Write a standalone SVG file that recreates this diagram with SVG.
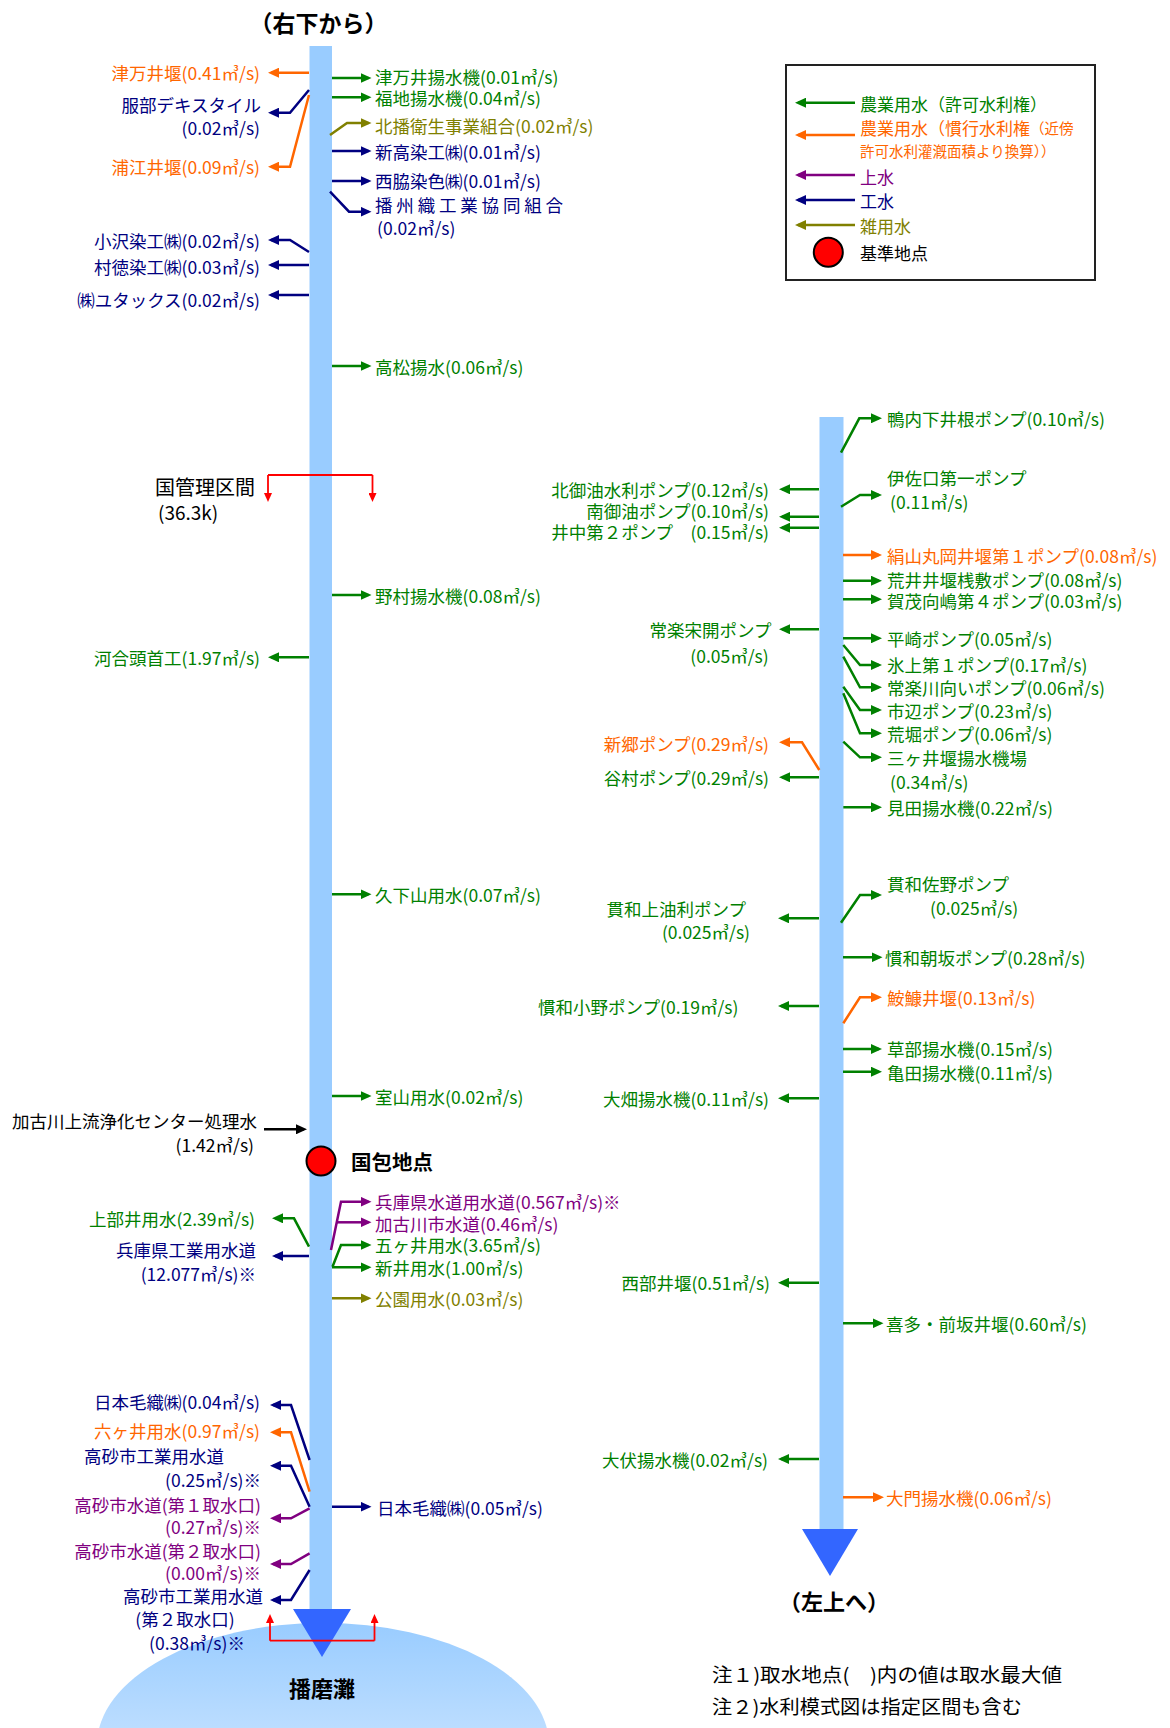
<svg xmlns="http://www.w3.org/2000/svg" width="1170" height="1728" viewBox="0 0 1170 1728">
<style>
text{font-family:"Noto Sans CJK JP","Noto Sans",sans-serif;font-size:17.5px;dominant-baseline:central}
.e{text-anchor:end}
.m{text-anchor:middle}
.b{font-weight:bold}
.tg{fill:#008000}.to{fill:#ff6600}.tn{fill:#000080}.tl{fill:#808000}.tp{fill:#800080}.tk{fill:#000}
.c{fill:none;stroke-width:2.5}
.cg{stroke:#008000;marker-end:url(#ag)}
.co{stroke:#ff6600;marker-end:url(#ao)}
.cn{stroke:#000080;marker-end:url(#an)}
.cl{stroke:#808000;marker-end:url(#al)}
.cp{stroke:#800080;marker-end:url(#ap)}
.ck{stroke:#000;marker-end:url(#ak)}
.cr{fill:none;stroke:#ff0000;stroke-width:1.8}
.river{fill:#99ccff}
.head{fill:#3366ff}
.leg{font-size:17px}
.legs{font-size:14.5px}
</style>
<defs>
<marker id="ag" viewBox="0 0 11 10" refX="8" refY="5" markerWidth="11" markerHeight="10" markerUnits="userSpaceOnUse" orient="auto"><path d="M0,0 L11,5 L0,10 z" fill="#008000"/></marker>
<marker id="ao" viewBox="0 0 11 10" refX="8" refY="5" markerWidth="11" markerHeight="10" markerUnits="userSpaceOnUse" orient="auto"><path d="M0,0 L11,5 L0,10 z" fill="#ff6600"/></marker>
<marker id="an" viewBox="0 0 11 10" refX="8" refY="5" markerWidth="11" markerHeight="10" markerUnits="userSpaceOnUse" orient="auto"><path d="M0,0 L11,5 L0,10 z" fill="#000080"/></marker>
<marker id="al" viewBox="0 0 11 10" refX="8" refY="5" markerWidth="11" markerHeight="10" markerUnits="userSpaceOnUse" orient="auto"><path d="M0,0 L11,5 L0,10 z" fill="#808000"/></marker>
<marker id="ap" viewBox="0 0 11 10" refX="8" refY="5" markerWidth="11" markerHeight="10" markerUnits="userSpaceOnUse" orient="auto"><path d="M0,0 L11,5 L0,10 z" fill="#800080"/></marker>
<marker id="ak" viewBox="0 0 11 10" refX="8" refY="5" markerWidth="11" markerHeight="10" markerUnits="userSpaceOnUse" orient="auto"><path d="M0,0 L11,5 L0,10 z" fill="#000"/></marker>
<marker id="ar" viewBox="0 0 9 8" refX="6" refY="4" markerWidth="9" markerHeight="8" markerUnits="userSpaceOnUse" orient="auto"><path d="M0,0 L9,4 L0,8 z" fill="#ff0000"/></marker>
<linearGradient id="sea" x1="0" y1="0" x2="0" y2="1">
<stop offset="0" stop-color="#99ccff"/>
<stop offset="1" stop-color="#e8f3ff"/>
</linearGradient>
</defs>
<rect width="1170" height="1728" fill="#fff"/>

<!-- Sea and rivers -->
<g id="sea-harima">
<ellipse cx="323" cy="1745" rx="226" ry="122" fill="url(#sea)"/>
<text class="m b tk" x="322" y="1687" style="font-size:22px">播磨灘</text>
</g>
<g id="river-left">
<rect class="river" x="309.5" y="46" width="22.5" height="1563"/>
<polygon class="head" points="293,1609 351,1609 322,1657"/>
</g>
<g id="river-right">
<rect class="river" x="819.5" y="417" width="24" height="1112"/>
<polygon class="head" points="802,1529 858,1529 830,1576"/>
</g>
<g id="title-top"><text class="m b tk" x="318.5" y="22" style="font-size:23px">（右下から）</text></g>
<g id="title-bottom"><text class="m b tk" x="834" y="1600" style="font-size:22px">（左上へ）</text></g>

<!-- Connectors -->
<g id="connectors">
<!-- left river, left side -->
<polyline class="c co" points="309,72.7 271,72.7"/>
<polyline class="c cn" points="309,90 290,112.7 271,112.7"/>
<polyline class="c co" points="309,95 290,166.7 271,166.7"/>
<polyline class="c cn" points="309,252 290,240 271,240"/>
<polyline class="c cn" points="309,265 271,265"/>
<polyline class="c cn" points="309,295 271,295"/>
<polyline class="c cg" points="309,657.3 271,657.3"/>
<polyline class="c ck" points="264,1129.3 304,1129.3"/>
<polyline class="c cg" points="309,1246.7 294,1218.3 275,1218.3"/>
<polyline class="c cn" points="309,1256 275,1256"/>
<polyline class="c cn" points="309.6,1460 291,1405 273,1405"/>
<polyline class="c co" points="309.6,1491.7 291,1432.3 273,1432.3"/>
<polyline class="c cn" points="309.6,1506.7 291,1465.7 273,1465.7"/>
<polyline class="c cp" points="309.6,1508.3 291,1518.3 273,1518.3"/>
<polyline class="c cp" points="309.6,1553.3 291,1564 273,1564"/>
<polyline class="c cn" points="309.6,1570 291,1600 273,1600"/>
<!-- left river, right side -->
<polyline class="c cg" points="332,78 368.5,78"/>
<polyline class="c cg" points="332,97.3 368.5,97.3"/>
<polyline class="c cl" points="330,135 347,123 368.5,123"/>
<polyline class="c cn" points="332,151 368.5,151"/>
<polyline class="c cn" points="332,181 368.5,181"/>
<polyline class="c cn" points="330,191.7 349,211.7 368.5,211.7"/>
<polyline class="c cg" points="332,366 368.5,366"/>
<polyline class="c cg" points="332,595 368.5,595"/>
<polyline class="c cg" points="332,894.3 368.5,894.3"/>
<polyline class="c cg" points="332,1096 368.5,1096"/>
<polyline class="c cp" points="331,1250 341,1201.7 368.5,1201.7"/>
<polyline class="c cp" points="337,1222.3 368.5,1222.3"/>
<polyline class="c cg" points="332.5,1266.7 341,1245 368.5,1245"/>
<polyline class="c cg" points="332,1267.3 368.5,1267.3"/>
<polyline class="c cl" points="332,1298.3 368.5,1298.3"/>
<polyline class="c cn" points="332,1506.7 368.5,1506.7"/>
<!-- red boundary brackets -->
<path class="cr" d="M268,475 H372.5"/>
<path class="cr" d="M268,475 V499" marker-end="url(#ar)"/>
<path class="cr" d="M372.5,475 V499" marker-end="url(#ar)"/>
<path class="cr" d="M270,1640.7 H374.5"/>
<path class="cr" d="M270,1640.7 V1617" marker-end="url(#ar)"/>
<path class="cr" d="M374.5,1640.7 V1617" marker-end="url(#ar)"/>
<!-- right river, right side -->
<polyline class="c cg" points="841,452.7 859.3,418.3 879,418.3"/>
<polyline class="c cg" points="841,506.7 860,495 879,495"/>
<polyline class="c co" points="843,555 879,555"/>
<polyline class="c cg" points="843,580.7 879,580.7"/>
<polyline class="c cg" points="843,599.3 879,599.3"/>
<polyline class="c cg" points="843,638.3 879,638.3"/>
<polyline class="c cg" points="843.3,645 860,665 879,665"/>
<polyline class="c cg" points="843.3,656.7 860,687.3 879,687.3"/>
<polyline class="c cg" points="843.3,686.7 860,710 879,710"/>
<polyline class="c cg" points="843.3,693.3 860,733.3 879,733.3"/>
<polyline class="c cg" points="843.3,741.7 860,757.3 879,757.3"/>
<polyline class="c cg" points="843.3,807.3 879,807.3"/>
<polyline class="c cg" points="841,922.7 860,895 879,895"/>
<polyline class="c cg" points="843,957.3 879.5,957.3"/>
<polyline class="c co" points="843.3,1023.3 860,997.3 879,997.3"/>
<polyline class="c cg" points="843,1049 879,1049"/>
<polyline class="c cg" points="843,1071.7 879,1071.7"/>
<polyline class="c cg" points="843,1323.3 880.5,1323.3"/>
<polyline class="c co" points="843,1497.3 881,1497.3"/>
<!-- right river, left side -->
<polyline class="c cg" points="819,489.3 782,489.3"/>
<polyline class="c cg" points="819,516.7 782,516.7"/>
<polyline class="c cg" points="819,527.7 782,527.7"/>
<polyline class="c cg" points="819,629.3 782,629.3"/>
<polyline class="c co" points="819.3,770 802,742.3 782,742.3"/>
<polyline class="c cg" points="819,777.3 782,777.3"/>
<polyline class="c cg" points="819,918.3 781,918.3"/>
<polyline class="c cg" points="819,1006 781,1006"/>
<polyline class="c cg" points="819,1098.3 781,1098.3"/>
<polyline class="c cg" points="819,1282.7 781,1282.7"/>
<polyline class="c cg" points="819,1459 781,1459"/>
</g>

<!-- Nodes: left river, left side -->
<g id="n-tsumai-seki"><text class="e to" x="260" y="72.7">津万井堰(0.41㎥/s)</text></g>
<g id="n-hattori"><text class="e tn" x="261" y="104">服部デキスタイル</text><text class="e tn" x="260" y="127.7">(0.02㎥/s)</text></g>
<g id="n-urae"><text class="e to" x="260" y="166">浦江井堰(0.09㎥/s)</text></g>
<g id="n-ozawa"><text class="e tn" x="260" y="240.5">小沢染工㈱(0.02㎥/s)</text></g>
<g id="n-muratoku"><text class="e tn" x="260" y="266.5">村徳染工㈱(0.03㎥/s)</text></g>
<g id="n-yutax"><text class="e tn" x="260" y="299">㈱ユタックス(0.02㎥/s)</text></g>
<g id="n-kuni-kanri"><text class="tk" x="155" y="486.7" style="font-size:20px">国管理区間</text><text class="tk" x="158" y="511" style="font-size:19px">(36.3k)</text></g>
<g id="n-kawai"><text class="e tg" x="260" y="657">河合頭首工(1.97㎥/s)</text></g>
<g id="n-jokasen"><text class="e tk" x="257" y="1120.7">加古川上流浄化センター処理水</text><text class="e tk" x="254" y="1144">(1.42㎥/s)</text></g>
<g id="n-kunikane"><circle cx="321" cy="1161" r="14.5" fill="#ff0000" stroke="#000" stroke-width="2"/><text class="b tk" x="351" y="1161" style="font-size:20.5px">国包地点</text></g>
<g id="n-jobui"><text class="e tg" x="255" y="1218">上部井用水(2.39㎥/s)</text></g>
<g id="n-hyogo-kogyo"><text class="e tn" x="256" y="1249">兵庫県工業用水道</text><text class="e tn" x="256" y="1273">(12.077㎥/s)※</text></g>
<g id="n-nihonkeori-1"><text class="e tn" x="260" y="1401">日本毛織㈱(0.04㎥/s)</text></g>
<g id="n-rokkai"><text class="e to" x="260" y="1430">六ヶ井用水(0.97㎥/s)</text></g>
<g id="n-takasago-kogyo-1"><text class="e tn" x="224" y="1455">高砂市工業用水道</text><text class="e tn" x="261" y="1479">(0.25㎥/s)※</text></g>
<g id="n-takasago-sui-1"><text class="e tp" x="261" y="1504">高砂市水道(第１取水口)</text><text class="e tp" x="261" y="1526.5">(0.27㎥/s)※</text></g>
<g id="n-takasago-sui-2"><text class="e tp" x="261" y="1550.5">高砂市水道(第２取水口)</text><text class="e tp" x="261" y="1572">(0.00㎥/s)※</text></g>
<g id="n-takasago-kogyo-2"><text class="e tn" x="263" y="1595">高砂市工業用水道</text><text class="m tn" x="185" y="1618.5">(第２取水口)</text><text class="m tn" x="197" y="1642">(0.38㎥/s)※</text></g>

<!-- Nodes: left river, right side -->
<g id="n-tsumai-yosui"><text class="tg" x="375" y="76.5">津万井揚水機(0.01㎥/s)</text></g>
<g id="n-fukuchi"><text class="tg" x="375" y="97.5">福地揚水機(0.04㎥/s)</text></g>
<g id="n-hokuban"><text class="tl" x="375" y="125">北播衛生事業組合(0.02㎥/s)</text></g>
<g id="n-shintaka"><text class="tn" x="375" y="151">新高染工㈱(0.01㎥/s)</text></g>
<g id="n-nishiwaki"><text class="tn" x="375" y="180">西脇染色㈱(0.01㎥/s)</text></g>
<g id="n-banshu"><text class="tn" x="375" y="204" textLength="188" lengthAdjust="spacing">播州織工業協同組合</text><text class="tn" x="377" y="227.7">(0.02㎥/s)</text></g>
<g id="n-takamatsu"><text class="tg" x="375" y="366">高松揚水(0.06㎥/s)</text></g>
<g id="n-nomura"><text class="tg" x="375" y="595">野村揚水機(0.08㎥/s)</text></g>
<g id="n-kugeyama"><text class="tg" x="375" y="894">久下山用水(0.07㎥/s)</text></g>
<g id="n-muroyama"><text class="tg" x="375" y="1096">室山用水(0.02㎥/s)</text></g>
<g id="n-hyogo-suido"><text class="tp" x="375" y="1201">兵庫県水道用水道(0.567㎥/s)※</text></g>
<g id="n-kakogawa-suido"><text class="tp" x="375" y="1223">加古川市水道(0.46㎥/s)</text></g>
<g id="n-gokai"><text class="tg" x="375" y="1244.5">五ヶ井用水(3.65㎥/s)</text></g>
<g id="n-shinai"><text class="tg" x="375" y="1267.5">新井用水(1.00㎥/s)</text></g>
<g id="n-koen"><text class="tl" x="375" y="1298">公園用水(0.03㎥/s)</text></g>
<g id="n-nihonkeori-2"><text class="tn" x="377" y="1507">日本毛織㈱(0.05㎥/s)</text></g>

<!-- Nodes: right river, right side -->
<g id="n-kamonai"><text class="tg" x="887" y="418.3">鴨内下井根ポンプ(0.10㎥/s)</text></g>
<g id="n-isaguchi"><text class="tg" x="887" y="477.3">伊佐口第一ポンプ</text><text class="tg" x="890" y="501">(0.11㎥/s)</text></g>
<g id="n-kinuyama"><text class="to" x="887" y="555">絹山丸岡井堰第１ポンプ(0.08㎥/s)</text></g>
<g id="n-arai-sajiki"><text class="tg" x="887" y="579.5">荒井井堰桟敷ポンプ(0.08㎥/s)</text></g>
<g id="n-kamo"><text class="tg" x="887" y="600.5">賀茂向嶋第４ポンプ(0.03㎥/s)</text></g>
<g id="n-hirasaki"><text class="tg" x="887" y="638">平崎ポンプ(0.05㎥/s)</text></g>
<g id="n-hikami"><text class="tg" x="887" y="664.5">氷上第１ポンプ(0.17㎥/s)</text></g>
<g id="n-joraku-kawamukai"><text class="tg" x="887" y="687.3">常楽川向いポンプ(0.06㎥/s)</text></g>
<g id="n-ichinobe"><text class="tg" x="887" y="710">市辺ポンプ(0.23㎥/s)</text></g>
<g id="n-arahori"><text class="tg" x="887" y="733.3">荒堀ポンプ(0.06㎥/s)</text></g>
<g id="n-sangai"><text class="tg" x="887" y="757.3">三ヶ井堰揚水機場</text><text class="tg" x="890" y="781">(0.34㎥/s)</text></g>
<g id="n-mita"><text class="tg" x="887" y="807.3">見田揚水機(0.22㎥/s)</text></g>
<g id="n-kanwa-sano"><text class="tg" x="887" y="883.3">貫和佐野ポンプ</text><text class="tg" x="930" y="907.3">(0.025㎥/s)</text></g>
<g id="n-kanwa-asazaka"><text class="tg" x="885" y="957.3">慣和朝坂ポンプ(0.28㎥/s)</text></g>
<g id="n-anko"><text class="to" x="887" y="997.3">鮟鱇井堰(0.13㎥/s)</text></g>
<g id="n-kusabe"><text class="tg" x="887" y="1048.5">草部揚水機(0.15㎥/s)</text></g>
<g id="n-kameda"><text class="tg" x="887" y="1072">亀田揚水機(0.11㎥/s)</text></g>
<g id="n-kita-maesaka"><text class="tg" x="886" y="1323.3">喜多・前坂井堰(0.60㎥/s)</text></g>
<g id="n-daimon"><text class="to" x="886" y="1497.3">大門揚水機(0.06㎥/s)</text></g>

<!-- Nodes: right river, left side -->
<g id="n-kitamiyu"><text class="e tg" x="769" y="489.3">北御油水利ポンプ(0.12㎥/s)</text></g>
<g id="n-minamimiyu"><text class="e tg" x="769" y="510.5">南御油ポンプ(0.10㎥/s)</text></g>
<g id="n-inaka"><text class="e tg" x="769" y="531.5">井中第２ポンプ　(0.15㎥/s)</text></g>
<g id="n-joraku-sokai"><text class="e tg" x="771.6" y="629">常楽宋開ポンプ</text><text class="e tg" x="768.7" y="655">(0.05㎥/s)</text></g>
<g id="n-shingo"><text class="e to" x="769" y="743.3">新郷ポンプ(0.29㎥/s)</text></g>
<g id="n-tanimura"><text class="e tg" x="769" y="777.3">谷村ポンプ(0.29㎥/s)</text></g>
<g id="n-kanwa-kamiyuri"><text class="e tg" x="746" y="908.3">貫和上油利ポンプ</text><text class="e tg" x="750" y="931.7">(0.025㎥/s)</text></g>
<g id="n-kanwa-ono"><text class="e tg" x="738.4" y="1006">慣和小野ポンプ(0.19㎥/s)</text></g>
<g id="n-ohata"><text class="e tg" x="769" y="1098">大畑揚水機(0.11㎥/s)</text></g>
<g id="n-seibu"><text class="e tg" x="770" y="1282.7">西部井堰(0.51㎥/s)</text></g>
<g id="n-obushi"><text class="e tg" x="768" y="1459">大伏揚水機(0.02㎥/s)</text></g>

<!-- Legend -->
<g id="legend">
<rect x="786" y="65" width="309" height="215" fill="#fff" stroke="#222" stroke-width="2"/>
<line class="c cg" x1="855" y1="102.7" x2="798" y2="102.7"/>
<text class="leg tg" x="860" y="103.3">農業用水（許可水利権）</text>
<line class="c co" x1="855" y1="135" x2="798" y2="135"/>
<text class="leg to" x="860" y="127.3">農業用水（慣行水利権<tspan class="legs">（近傍</tspan></text>
<text class="legs to" x="860" y="150">許可水利灌漑面積より換算））</text>
<line class="c cp" x1="855" y1="175" x2="798" y2="175"/>
<text class="leg tp" x="860" y="176">上水</text>
<line class="c cn" x1="855" y1="200" x2="798" y2="200"/>
<text class="leg tn" x="860" y="200">工水</text>
<line class="c cl" x1="855" y1="225" x2="798" y2="225"/>
<text class="leg tl" x="860" y="225">雑用水</text>
<circle cx="828.3" cy="252.3" r="14.5" fill="#ff0000" stroke="#000" stroke-width="2"/>
<text class="leg tk" x="860" y="252">基準地点</text>
</g>

<!-- Notes -->
<g id="notes">
<text class="tk" x="712" y="1673.3" style="font-size:19px" textLength="350" lengthAdjust="spacingAndGlyphs">注１)取水地点(　)内の値は取水最大値</text>
<text class="tk" x="712" y="1705" style="font-size:19px" textLength="310" lengthAdjust="spacingAndGlyphs">注２)水利模式図は指定区間も含む</text>
</g>
</svg>
